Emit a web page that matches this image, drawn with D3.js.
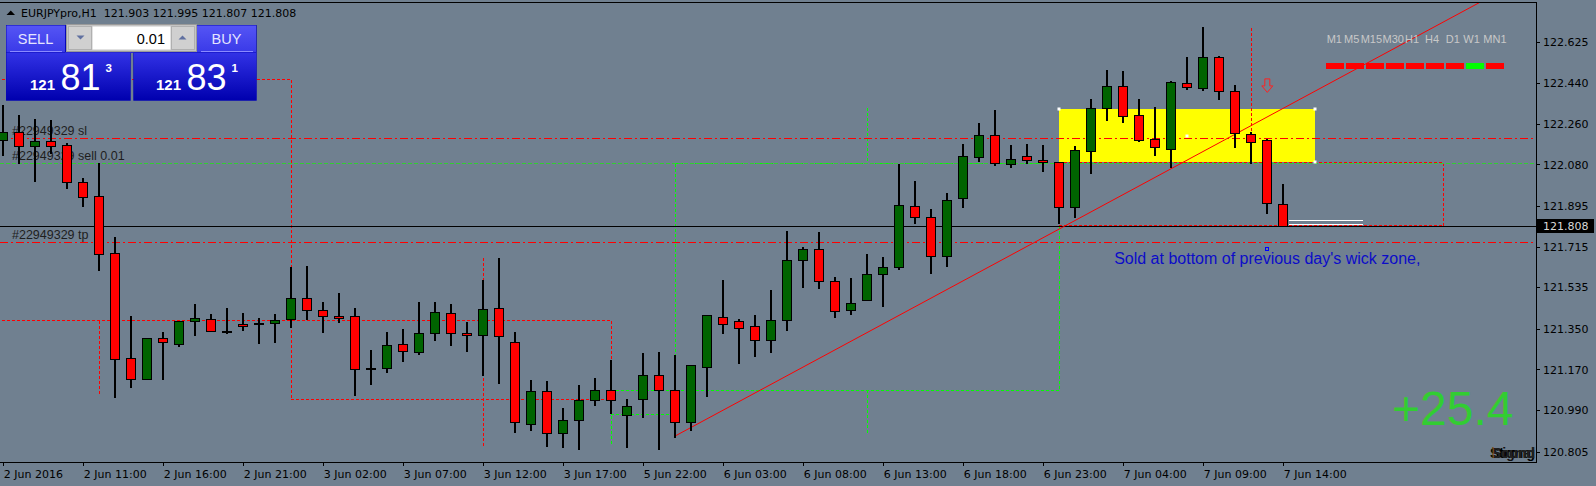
<!DOCTYPE html>
<html><head><meta charset="utf-8">
<script src="https://cdn.jsdelivr.net/npm/d3@7"></script>
<style>
html,body{margin:0;padding:0;background:#708090;overflow:hidden;}
svg{display:block;}
text{white-space:pre;}
</style></head><body>
<svg id="c" width="1596" height="486"></svg>
<script>
// ---------- DATA ----------
const symbol = "EURJPYpro,H1";
const opens = [122.187,122.222,122.163,122.184,122.166,122.000,121.938,121.685,121.219,121.126,
 121.309,121.284,121.383,121.392,121.340,121.370,121.376,121.375,121.392,121.486,
 121.432,121.406,121.406,121.178,121.175,121.281,121.246,121.334,121.419,121.330,
 121.321,121.441,121.294,120.930,121.073,120.886,120.944,121.033,121.077,120.970,
 121.037,121.144,121.077,120.938,121.183,121.405,121.383,121.361,121.299,121.388,
 121.654,121.703,121.561,121.432,121.477,121.592,121.623,121.894,121.845,121.672,
 121.929,122.114,122.213,122.080,122.116,122.098,122.089,121.892,122.141,122.329,
 122.427,122.298,122.191,122.150,122.440,122.421,122.555,122.404,122.214,122.187,121.903];
const highs = [122.344,122.299,122.282,122.277,122.174,122.021,122.085,121.759,121.407,121.308,
 121.336,121.385,121.460,121.416,121.443,121.422,121.397,121.416,121.626,121.629,
 121.469,121.509,121.443,121.256,121.336,121.348,121.469,121.469,121.460,121.380,
 121.567,121.664,121.336,121.123,121.118,120.999,121.101,121.132,121.213,121.038,
 121.243,121.247,121.234,121.192,121.414,121.567,121.392,121.410,121.521,121.784,
 121.713,121.780,121.580,121.576,121.682,121.669,122.082,122.006,121.881,121.953,
 122.169,122.264,122.321,122.166,122.171,122.166,122.092,122.162,122.370,122.499,
 122.495,122.370,122.335,122.450,122.557,122.690,122.561,122.431,122.225,122.194,121.995];
const lows = [122.122,122.085,122.008,122.129,121.974,121.895,121.611,121.049,121.090,121.126,
 121.129,121.275,121.323,121.339,121.330,121.345,121.286,121.293,121.360,121.395,
 121.335,121.379,121.055,121.107,121.160,121.209,121.237,121.300,121.280,121.253,
 121.147,121.111,120.893,120.902,120.831,120.827,120.815,121.013,120.975,120.827,
 120.960,120.816,120.871,120.901,121.053,121.333,121.200,121.231,121.246,121.345,
 121.537,121.533,121.404,121.417,121.477,121.453,121.614,121.821,121.599,121.630,
 121.892,122.095,122.077,122.070,122.085,122.052,121.818,121.848,122.040,122.277,
 122.270,122.186,122.122,122.070,122.416,122.412,122.370,122.159,122.088,121.866,121.807];
const closes = [122.222,122.163,122.184,122.163,122.000,121.937,121.681,121.215,121.126,121.308,
 121.290,121.385,121.397,121.339,121.335,121.365,121.376,121.388,121.486,121.432,
 121.406,121.400,121.170,121.173,121.277,121.250,121.334,121.423,121.330,121.321,
 121.437,121.317,120.935,121.073,120.886,120.944,121.033,121.077,121.033,121.006,
 121.144,121.077,120.938,121.188,121.414,121.374,121.352,121.299,121.388,121.654,
 121.707,121.561,121.428,121.463,121.592,121.623,121.898,121.845,121.672,121.921,
 122.116,122.213,122.085,122.103,122.098,122.089,121.892,122.143,122.329,122.427,
 122.296,122.190,122.159,122.444,122.425,122.555,122.404,122.218,122.181,121.907,121.808];

const timeTickIdx = [0,5,10,15,20,25,30,35,40,45,50,55,60,65,70,75,80];
const timeTickLabels = ["2 Jun 2016","2 Jun 11:00","2 Jun 16:00","2 Jun 21:00","3 Jun 02:00",
 "3 Jun 07:00","3 Jun 12:00","3 Jun 17:00","5 Jun 22:00","6 Jun 03:00","6 Jun 08:00",
 "6 Jun 13:00","6 Jun 18:00","6 Jun 23:00","7 Jun 04:00","7 Jun 09:00","7 Jun 14:00"];
const priceTicks = [122.625,122.440,122.260,122.080,121.895,121.715,121.535,121.350,121.170,120.990,120.805];

const bidPrice = 121.808;
const orderId = "#22949329";
const slPrice = 122.196, openPrice = 122.085, tpPrice = 121.734;
const sellQuote = ["121","81","3"], buyQuote = ["121","83","1"], lotSize = "0.01";

// [idx1, price1, idx2, price2]
const redDotted = [
 [-1,122.458,18,122.458],[18,122.458,18,121.039],[18,121.039,38,121.039],
 [30,121.668,30,120.834],[-1,121.390,38,121.390],[38,121.390,38,121.216],
 [6,121.390,6,121.065],[78,122.692,78,122.087],
 [66,122.090,90,122.090],[90,122.090,90,121.813],[66,121.813,90,121.813]];
const greenDotted = [
 [42,122.085,66,122.085],[42,122.085,42,120.887],[38,121.079,66,121.079],
 [66,121.811,66,121.079],[54,122.335,54,122.085],[54,121.083,54,120.887],
 [38,120.972,42,120.972],[38,121.079,38,120.834]];
const zone = [66,122.326,82,122.090];
const trendPts = [[42,120.875],[90.2,122.72]];
const whiteLines = [[80.35,121.832,85,121.832],[80.35,121.814,85,121.814]];
const arrowMark = [79,122.400];
const noteAnchor = [79,121.704];
const noteText = "Sold at bottom of previous day's wick zone,";
const profitText = "+25.4";
const tfLabels = ["M1","M5","M15","M30","H1","H4","D1","W1","MN1"];
const tfUp = [false,false,false,false,false,false,false,true,false];

// ---------- SCALES ----------
const plotR = 1536, plotT = 2.5, plotB = 462;
const x = d3.scaleLinear().domain([0,80]).range([3.3,1283.3]);
const y = d3.scaleLinear().domain([120.805,122.625]).range([451.7,41.7]);
const X = i => Math.round(x(i));
const Y = p => Math.round(y(p)) + 0.5;

const svg = d3.select("#c");
const defs = svg.append("defs");
defs.append("clipPath").attr("id","clip").append("rect")
  .attr("x",0).attr("y",3).attr("width",plotR).attr("height",plotB-3);
const g1 = defs.append("linearGradient").attr("id","pg").attr("x1",0).attr("y1",0).attr("x2",0).attr("y2",1);
g1.append("stop").attr("offset","0").attr("stop-color","#3232e6");
g1.append("stop").attr("offset","1").attr("stop-color","#0000ae");
const g2 = defs.append("linearGradient").attr("id","bg2").attr("x1",0).attr("y1",0).attr("x2",0).attr("y2",1);
g2.append("stop").attr("offset","0").attr("stop-color","#5555f5");
g2.append("stop").attr("offset","1").attr("stop-color","#3a3ae8");

svg.append("rect").attr("width",1596).attr("height",486).attr("fill","#708090");

const plot = svg.append("g").attr("clip-path","url(#clip)");

// yellow zone
plot.append("rect").attr("x",X(zone[0])).attr("y",Math.round(y(zone[1])))
  .attr("width",X(zone[2])-X(zone[0])).attr("height",Math.round(y(zone[3]))-Math.round(y(zone[1])))
  .attr("fill","#ffff00");

function seg(g, arr, color, dash, w){
  g.selectAll(null).data(arr).join("line")
   .attr("x1",d=>X(d[0])+(d[0]===d[2]?0.5:0)).attr("x2",d=>X(d[2])+(d[0]===d[2]?0.5:0))
   .attr("y1",d=>Y(d[1])).attr("y2",d=>Y(d[3]))
   .attr("stroke",color).attr("stroke-width",w||1).attr("stroke-dasharray",dash)
   .attr("shape-rendering","crispEdges");
}
seg(plot, redDotted, "#ff0000", "3,2");
seg(plot, greenDotted, "#00ff00", "3,2");

// order lines
function hline(p, color, dash){
  plot.append("line").attr("x1",0).attr("x2",plotR).attr("y1",Y(p)).attr("y2",Y(p))
    .attr("stroke",color).attr("stroke-dasharray",dash).attr("shape-rendering","crispEdges");
}
hline(slPrice,"#ff0000","8,3,2,3");
hline(tpPrice,"#ff0000","8,3,2,3");
hline(openPrice,"#32cd32","4,2");
hline(bidPrice,"#000000",null);
seg(plot, [[66,121.813,90,121.813]], "#ff0000", "3,2");
seg(plot, whiteLines, "#ffffff", null);

const lblFont = "'Liberation Sans', Arial, sans-serif";
[[orderId+" sl",slPrice],[orderId+" sell 0.01",openPrice],[orderId+" tp",tpPrice]].forEach(d=>{
  plot.append("text").attr("x",12).attr("y",Y(d[1])-4).text(d[0])
    .attr("font-family",lblFont).attr("font-size",12.5).attr("fill","#1e1e1e");
});

// trend line
const slope = (trendPts[1][1]-trendPts[0][1])/(trendPts[1][0]-trendPts[0][0]);
plot.append("line").attr("x1",x(trendPts[0][0])).attr("y1",y(trendPts[0][1]))
  .attr("x2",x(100)).attr("y2",y(trendPts[0][1]+slope*(100-trendPts[0][0])))
  .attr("stroke","#ff0000").attr("stroke-width",1);

// note text + anchor
plot.append("text").attr("x",x(noteAnchor[0])).attr("y",y(noteAnchor[1])+15)
  .attr("text-anchor","middle").attr("font-family",lblFont).attr("font-size",16)
  .attr("fill","#0c0cc8").text(noteText);
plot.append("rect").attr("x",X(noteAnchor[0])-1.5).attr("y",Math.round(y(noteAnchor[1]))-1.5)
  .attr("width",3).attr("height",3).attr("fill","none").attr("stroke","#0000ff");

// candles
const idx = d3.range(opens.length);
const cg = plot.append("g");
cg.selectAll("line.w").data(idx).join("line").attr("class","w")
  .attr("x1",i=>X(i)).attr("x2",i=>X(i))
  .attr("y1",i=>Math.round(y(highs[i]))).attr("y2",i=>Math.round(y(lows[i]))+1)
  .attr("stroke","#000").attr("stroke-width",2).attr("shape-rendering","crispEdges");
cg.selectAll("rect.b").data(idx).join("rect").attr("class","b")
  .attr("x",i=>X(i)-4.5).attr("width",9)
  .attr("y",i=>Math.round(y(Math.max(opens[i],closes[i])))+0.5)
  .attr("height",i=>Math.max(1,Math.round(y(Math.min(opens[i],closes[i])))-Math.round(y(Math.max(opens[i],closes[i])))))
  .attr("fill",i=>closes[i]>=opens[i]?"#006400":"#ff0000")
  .attr("stroke","#000").attr("stroke-width",1).attr("shape-rendering","crispEdges");

// zone handles
[[zone[0],zone[1]],[zone[2],zone[1]],[zone[2],zone[3]],[(zone[0]+zone[2])/2,(zone[1]+zone[3])/2]].forEach(d=>{
  plot.append("rect").attr("x",X(d[0])-1.5).attr("y",Math.round(y(d[1]))-1.5).attr("width",3).attr("height",3)
    .attr("fill","#ffffff");
});

// arrow
{
  const ax = x(arrowMark[0]), ay = y(arrowMark[1]);
  plot.append("path").attr("d",`M${ax-2.5},${ay-13.5}H${ax+2.5}V${ay-6.5}H${ax+5.5}L${ax},${ay}L${ax-5.5},${ay-6.5}H${ax-2.5}Z`)
    .attr("fill","none").attr("stroke","#ff2020").attr("stroke-width",1);
}

// ---------- AXES ----------
const axFont = "'DejaVu Sans', sans-serif";
const ya = svg.append("g").attr("transform",`translate(${plotR},0)`)
  .call(d3.axisRight(y).tickValues(priceTicks).tickFormat(d3.format(".3f")).tickSize(4).tickPadding(3).tickSizeOuter(0));
ya.select(".domain").remove();
ya.selectAll("text").attr("font-family",axFont).attr("font-size",11).attr("fill","#000");
ya.selectAll("line").attr("stroke","#000").attr("shape-rendering","crispEdges");

const xa = svg.append("g").attr("transform",`translate(0,${plotB})`)
  .call(d3.axisBottom(x).tickValues(timeTickIdx).tickFormat((d,i)=>timeTickLabels[i]).tickSize(4).tickSizeOuter(0));
xa.select(".domain").remove();
xa.selectAll("text").attr("text-anchor","start").attr("x",0).attr("y",8).attr("dy","0.71em")
  .attr("font-family",axFont).attr("font-size",11).attr("fill","#000");
xa.selectAll("line").attr("stroke","#000").attr("shape-rendering","crispEdges");

// frame
svg.append("path").attr("d",`M0,${plotT}H${plotR+0.5}V${plotB+0.5}H0`).attr("fill","none")
  .attr("stroke","#000").attr("shape-rendering","crispEdges");

// bid label
svg.append("rect").attr("x",1537).attr("y",Math.round(y(bidPrice))-7).attr("width",57).attr("height",14).attr("fill","#000");
svg.append("text").attr("x",1543).attr("y",Math.round(y(bidPrice))+4).attr("font-family",axFont).attr("font-size",11)
  .attr("fill","#d8d8d8").text(d3.format(".3f")(bidPrice));

// header
const L = opens.length-1;
svg.append("path").attr("d","M6.5,15L10.8,10.5L15,15Z").attr("fill","#000");
svg.append("text").attr("x",21).attr("y",16.5).attr("font-family",axFont).attr("font-size",11).attr("fill","#000")
  .text(`${symbol}  ${opens[L].toFixed(3)} ${highs[L].toFixed(3)} ${lows[L].toFixed(3)} ${closes[L].toFixed(3)}`);

// ---------- TRADE PANEL ----------
const pn = svg.append("g");
pn.append("rect").attr("x",6).attr("y",25).attr("width",124.7).attr("height",75.7).attr("fill","#0606b8");
pn.append("rect").attr("x",133.3).attr("y",25).attr("width",123.4).attr("height",75.7).attr("fill","#0606b8");
pn.append("rect").attr("x",6.5).attr("y",25.5).attr("width",58.5).attr("height",26.5).attr("fill","url(#bg2)");
pn.append("rect").attr("x",197).attr("y",25.5).attr("width",59).attr("height",26.5).attr("fill","url(#bg2)");
pn.append("rect").attr("x",6.5).attr("y",52.5).attr("width",123.7).attr("height",47.7).attr("fill","url(#pg)");
pn.append("rect").attr("x",133.8).attr("y",52.5).attr("width",122.4).attr("height",47.7).attr("fill","url(#pg)");
pn.append("rect").attr("x",65).attr("y",52).attr("width",68).attr("height",1).attr("fill","#2a2ad0");
pn.append("line").attr("x1",10).attr("x2",62).attr("y1",51.5).attr("y2",51.5).attr("stroke","#8a8aff");
pn.append("line").attr("x1",201).attr("x2",253).attr("y1",51.5).attr("y2",51.5).attr("stroke","#8a8aff");
// lot box
pn.append("rect").attr("x",66.5).attr("y",24.5).attr("width",130).attr("height",27).attr("fill","#c4c4c4").attr("stroke","#9a9a9a");
pn.append("rect").attr("x",92.5).attr("y",26.5).attr("width",78).attr("height",23).attr("fill","#ffffff");
pn.append("rect").attr("x",68.5).attr("y",26.5).attr("width",23).attr("height",23).attr("fill","#d0d0d0").attr("stroke","#b0b0b0");
pn.append("rect").attr("x",171.5).attr("y",26.5).attr("width",23).attr("height",23).attr("fill","#d0d0d0").attr("stroke","#b0b0b0");
pn.append("path").attr("d","M76.5,35.5H84.5L80.5,39.5Z").attr("fill","#6070a0");
pn.append("path").attr("d","M178.5,39.5H186.5L182.5,35.5Z").attr("fill","#6070a0");
pn.append("text").attr("x",165).attr("y",43.5).attr("text-anchor","end").attr("font-family",lblFont)
  .attr("font-size",14.5).attr("fill","#000").text(lotSize);
pn.append("text").attr("x",35.5).attr("y",44).attr("text-anchor","middle").attr("font-family",lblFont)
  .attr("font-size",14.5).attr("fill","#e4e4ff").text("SELL");
pn.append("text").attr("x",226.5).attr("y",44).attr("text-anchor","middle").attr("font-family",lblFont)
  .attr("font-size",14.5).attr("fill","#e4e4ff").text("BUY");
function quote(q, x0, x1, x2){
  pn.append("text").attr("x",x0).attr("y",90).attr("font-family",lblFont).attr("font-weight","bold")
    .attr("font-size",15).attr("fill","#fff").text(q[0]);
  pn.append("text").attr("x",x1).attr("y",90).attr("font-family",lblFont)
    .attr("font-size",36).attr("fill","#fff").text(q[1]);
  pn.append("text").attr("x",x2).attr("y",72).attr("font-family",lblFont).attr("font-weight","bold")
    .attr("font-size",11.5).attr("fill","#fff").text(q[2]);
}
quote(sellQuote, 30, 60.5, 105.5);
quote(buyQuote, 156, 186.5, 231.5);

// ---------- TIMEFRAME STRIP ----------
const tfX = [1326.7,1344,1360.7,1382.5,1405,1425,1445.7,1463.3,1483.3];
const tf = svg.append("g");
tf.selectAll("text").data(tfLabels).join("text")
  .attr("x",(d,i)=>tfX[i]).attr("y",42.7)
  .attr("font-family",lblFont).attr("font-size",11).attr("fill","#c8c8c8").text(d=>d);
tf.selectAll("rect").data(tfUp).join("rect")
  .attr("x",(d,i)=>1326+20*i).attr("y",63).attr("width",18).attr("height",6)
  .attr("fill",d=>d?"#00ff00":"#ff0000");

// ---------- PROFIT + SIGNAL LABELS ----------
svg.append("text").attr("x",1513.5).attr("y",425).attr("text-anchor","end").attr("font-family",lblFont)
  .attr("font-size",48).attr("fill","#32cd32").text(profitText);
[["Signal","#111"],["Strong","#000"],["Sound","#222"]].forEach(d=>{
  svg.append("text").attr("x",1535).attr("y",457.5).attr("text-anchor","end").attr("font-family",lblFont)
    .attr("font-weight","bold").attr("font-size",14).attr("fill",d[1]).text(d[0]);
});
svg.append("text").attr("x",1491.5).attr("y",457.5).attr("font-family",lblFont)
  .attr("font-size",14).attr("fill","#7a4a10").text("l");
</script>
</body></html>
